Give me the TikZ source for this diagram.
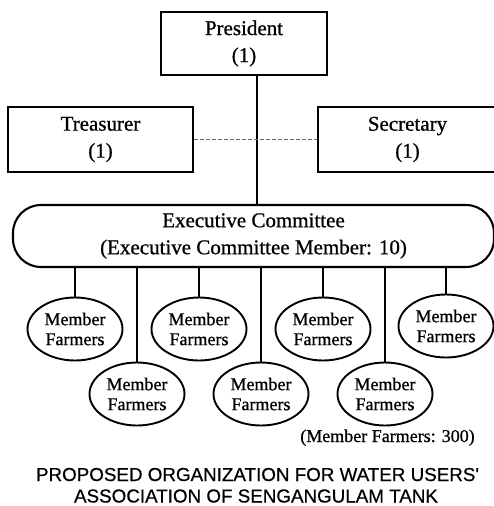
\documentclass[tikz,border=0pt]{standalone}
\usepackage{fontspec}
\setmainfont{Liberation Serif}[FakeBold=0.8]
\newfontfamily\capfont{Liberation Sans}[FakeBold=0.6]
\usetikzlibrary{shapes.geometric}
\begin{document}
\begin{tikzpicture}[x=1bp,y=-1bp,
  box/.style={draw, line width=2.1bp, rectangle, inner sep=0pt, align=center,
    font=\fontsize{21bp}{27bp}\selectfont},
  farmer/.style={draw, line width=1.9bp, ellipse, inner sep=0pt,
    minimum width=95bp, minimum height=63bp, align=center,
    font=\fontsize{18bp}{20bp}\selectfont},
  link/.style={line width=2.1bp},
  dashlink/.style={dashed, dash pattern=on 4bp off 2bp, line width=1bp, black!60}]
\useasboundingbox (0,0) rectangle (494,506);
% top boxes
\node[box, minimum width=166bp, minimum height=63bp] (pres) at (244,43.5) {President\\(1)};
\node[box, minimum width=185bp, minimum height=65bp] (treas) at (100.5,139.5) {Treasurer\\(1)};
\node[box, minimum width=179bp, minimum height=65bp] (sec) at (407.5,139.5) {Secretary\\(1)};
\node[box, rounded corners=28bp, minimum width=481bp, minimum height=62bp] (exec) at (253.5,236)
  {Executive Committee\\(Executive Committee Member: 10)};
\coordinate (vx) at (257,0);
\draw[link] (pres.south -| vx) -- (exec.north -| vx);
\draw[dashlink] (treas.east) -- (sec.west);
% member farmers
\node[farmer] (f1) at (75,329) {Member\\Farmers};
\node[farmer] (f2) at (137,394) {Member\\Farmers};
\node[farmer] (f3) at (199,329) {Member\\Farmers};
\node[farmer] (f4) at (261,394) {Member\\Farmers};
\node[farmer] (f5) at (323,329) {Member\\Farmers};
\node[farmer] (f6) at (385,394) {Member\\Farmers};
\node[farmer] (f7) at (446,326) {Member\\Farmers};
\foreach \i in {1,...,7}{\draw[link] (exec.south -| f\i.north) -- (f\i.north);}
\node[font=\fontsize{18bp}{20bp}\selectfont, anchor=base, inner sep=0pt] (total) at (387.5,442)
  {(Member Farmers: 300)};
\node[font=\capfont\fontsize{18.8bp}{23bp}\selectfont, anchor=base, inner sep=0pt] (cap1) at (257.5,481)
  {PROPOSED ORGANIZATION FOR WATER USERS'};
\node[font=\capfont\fontsize{18.8bp}{23bp}\selectfont, anchor=base, inner sep=0pt] (cap2) at (256,502.5)
  {ASSOCIATION OF SENGANGULAM TANK};
\end{tikzpicture}
\end{document}
